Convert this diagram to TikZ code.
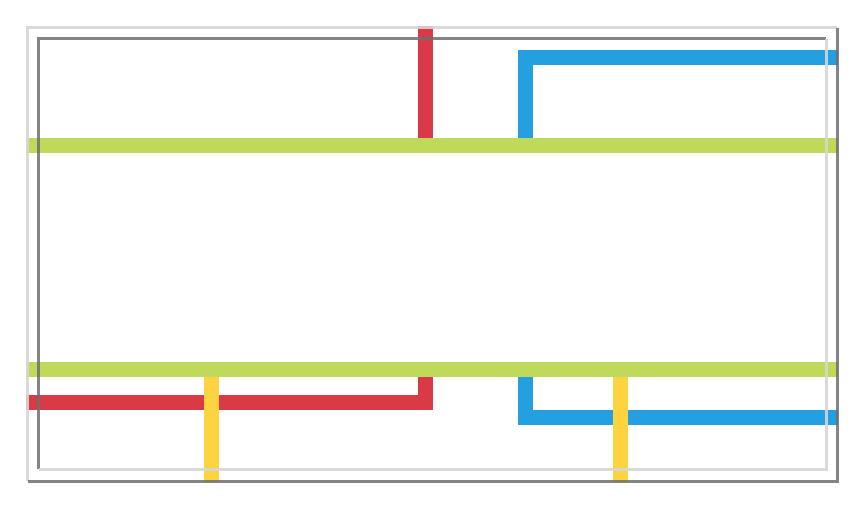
\documentclass[tikz,border=0pt]{standalone}
\definecolor{lgreen}{HTML}{BFD95B}
\definecolor{lred}{HTML}{D93A45}
\definecolor{lblue}{HTML}{24A0E0}
\definecolor{lyellow}{HTML}{FDD43F}
\definecolor{fdark}{HTML}{6E6E6E}
\definecolor{flight}{HTML}{D6D6D6}
\begin{document}
\begin{tikzpicture}[x=1pt,y=-1pt,
  route/.style={line width=15pt,line join=miter,line cap=butt},
  framedark/.style={draw=fdark,line width=3pt,opacity=0.85,line join=miter},
  framelight/.style={draw=flight,line width=3pt,opacity=0.9,line join=miter}]
\useasboundingbox (0,0) rectangle (865,509);
% coordinates
\coordinate (gTL) at (26,145);
\coordinate (gTR) at (838,145);
\coordinate (gBL) at (26,369);
\coordinate (gBR) at (838,369);
% routes
\draw[route,lred] (425,26) -- (425,145);
\draw[route,lblue] (525,145) -- (525,57.5) -- (838,57.5);
\draw[route,lred] (26,402) -- (425,402) -- (425,369);
\draw[route,lblue] (525,369) -- (525,417.5) -- (838,417.5);
\draw[route,lyellow] (211.5,369) -- (211.5,482);
\draw[route,lyellow] (620,369) -- (620,482);
\draw[route,lgreen] (gTL) -- (gTR);
\draw[route,lgreen] (gBL) -- (gBR);
% frame
\draw[framelight] (27.5,481) -- (27.5,27.5) -- (837,27.5);
\draw[framedark] (837,27.5) -- (837,481) -- (27.5,481);
\draw[framedark] (38.5,469) -- (38.5,38.5) -- (826,38.5);
\draw[framelight] (826,38.5) -- (826,469) -- (38.5,469);
\end{tikzpicture}
\end{document}
